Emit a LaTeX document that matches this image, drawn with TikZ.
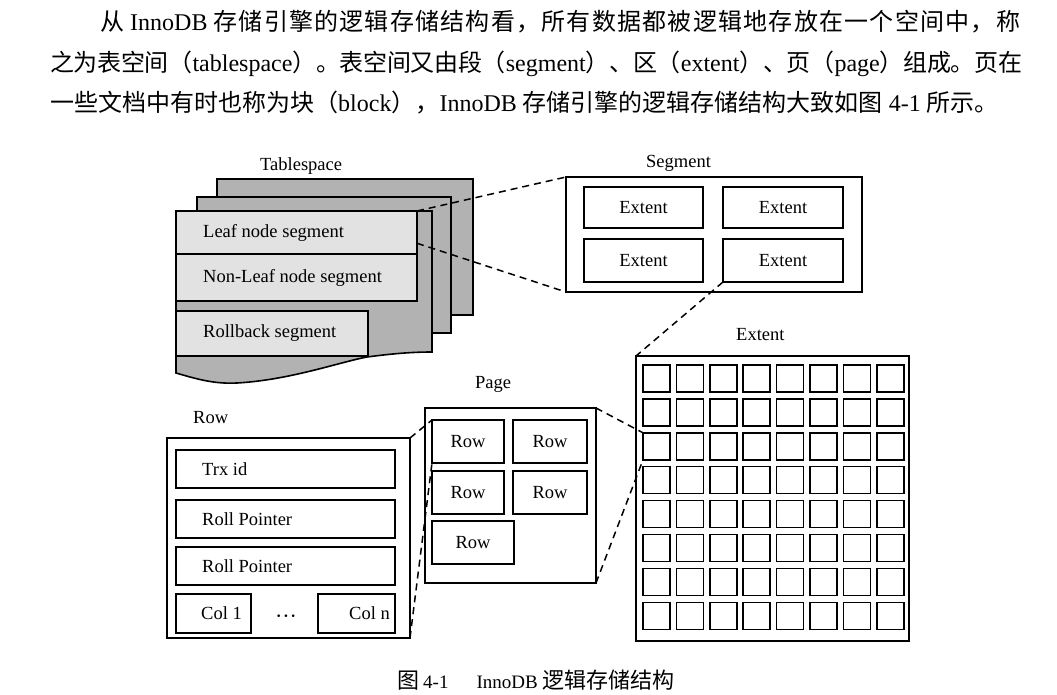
\documentclass[tikz,border=0pt]{standalone}
\usepackage{fontspec}
\setmainfont{Liberation Serif}
\newfontfamily\cjk{Noto Sans CJK SC}
\usetikzlibrary{positioning,calc}
\definecolor{pagegray}{HTML}{B2B2B2}
\definecolor{seggray}{HTML}{E2E2E2}

% stretchable glue between Chinese characters (for justified lines)
\newXeTeXintercharclass\hanzicls
\newcount\hzcode
\hzcode="4E00
\loop\ifnum\hzcode<"A000
  \XeTeXcharclass\hzcode=\hanzicls
  \advance\hzcode by 1
\repeat
\XeTeXcharclass"3001=\hanzicls
\XeTeXcharclass"3002=\hanzicls
\XeTeXcharclass"FF08=\hanzicls
\XeTeXcharclass"FF09=\hanzicls
\XeTeXcharclass"FF0C=\hanzicls
\XeTeXinterchartoks\hanzicls\hanzicls={\hskip0pt plus 1pt minus 0.5pt\relax}
\XeTeXinterchartokenstate=1

\newcommand\diagfont{\fontsize{18.5}{22}\selectfont}
\tikzset{
  frame/.style  ={draw=black,line width=2pt,inner sep=0pt,outer sep=0pt},
  cell/.style   ={draw=black,line width=1.6pt,inner sep=0pt,outer sep=0pt,
                  font=\diagfont},
  segbox/.style ={cell,fill=seggray},
  sheet/.style  ={draw=black,line width=1.6pt,fill=pagegray},
  sq/.style     ={draw=black,line width=1.5pt,inner sep=0pt,outer sep=0pt,
                  minimum size=27pt},
  title/.style  ={font=\diagfont,inner sep=0pt,anchor=base west},
  para/.style   ={font=\fontsize{24}{28}\selectfont,inner sep=0pt,anchor=base west},
  zoomline/.style={draw=black,line width=1.5pt,dash pattern=on 7pt off 5pt}
}

\begin{document}
\begin{tikzpicture}[x=1pt,y=-1pt]
  \useasboundingbox[fill=white] (0,0) rectangle (1057,695);

  % paragraph above the figure
  \node[para] (line1) at (100,31) {\makebox[920pt][s]{{\cjk 从}\hspace{6pt}InnoDB\hspace{6pt}{\cjk 存储引擎的逻辑存储结构看，所有数据都被逻辑地存放在一个空间中，称}}};
  \node[para] (line2) at (50,72) {\makebox[972pt][s]{{\cjk 之为表空间（}tablespace{\cjk ）。表空间又由段（}segment{\cjk ）、区（}extent{\cjk ）、页（}page{\cjk ）组成。页在}}};
  \node[para] (line3) at (50,112) {{\cjk 一些文档中有时也称为块（}block{\cjk ），}InnoDB {\cjk 存储引擎的逻辑存储结构大致如图} 4-1 {\cjk 所示。}};

  % tablespace: stacked pages
  \node[title] (tstitle) at (260,171) {Tablespace};
  \draw[sheet] (217,179) rectangle (473,315);
  \draw[sheet] (197,197) rectangle (451,333);
  \draw[sheet] (176,211) -- (432,211) -- (432,352)
    .. controls (410,352) and (390,354) .. (367,357)
    .. controls (340,362) and (290,380) .. (237,383)
    .. controls (215,384) and (200,380) .. (176,373) -- cycle;
  \node[segbox,minimum width=241pt,minimum height=43pt,anchor=north west,
        label={[anchor=west,xshift=27pt,inner sep=0pt,font=\diagfont]west:Leaf node segment}] (leaf) at (176,211) {};
  \node[segbox,minimum width=241pt,minimum height=47pt,anchor=north west,
        label={[anchor=west,xshift=27pt,inner sep=0pt,font=\diagfont]west:Non-Leaf node segment}] (nonleaf) at (176,254) {};
  \node[segbox,minimum width=192pt,minimum height=45pt,anchor=north west,
        label={[anchor=west,xshift=27pt,inner sep=0pt,font=\diagfont]west:Rollback segment}] (rollback) at (176,311) {};

  % segment
  \node[title] (segtitle) at (646,168) {Segment};
  \node[frame,minimum width=296pt,minimum height=115pt,anchor=north west] (seg) at (566,177) {};
  \node[cell,minimum width=119pt,minimum height=41pt,anchor=north west] (ext1) at (584,187) {Extent};
  \node[cell,minimum width=120pt,minimum height=41pt,right=20pt of ext1] (ext2) {Extent};
  \node[cell,minimum width=119pt,minimum height=43pt,below=11pt of ext1] (ext3) {Extent};
  \node[cell,minimum width=120pt,minimum height=43pt,right=20pt of ext3] (ext4) {Extent};

  % extent: 8 x 8 pages
  \node[title] (exttitle) at (736,340) {Extent};
  \node[frame,line width=2.4pt,minimum width=273pt,minimum height=285pt,anchor=north west] (extent) at (636,356) {};
  \foreach \r in {1,...,8}
    \foreach \c in {1,...,8}
      \node[sq,anchor=north west] (sq-\r-\c) at ({643+(\c-1)*33.4},{365+(\r-1)*33.9}) {};

  % page
  \node[title] (pagetitle) at (475,388) {Page};
  \node[frame,minimum width=171pt,minimum height=175pt,anchor=north west] (page) at (425,408) {};
  \node[cell,minimum width=72pt,minimum height=43pt,anchor=north west] (r1) at (432,420) {Row};
  \node[cell,minimum width=74pt,minimum height=43pt,right=9pt of r1] (r2) {Row};
  \node[cell,minimum width=72pt,minimum height=43pt,below=8pt of r1] (r3) {Row};
  \node[cell,minimum width=74pt,minimum height=43pt,right=9pt of r3] (r4) {Row};
  \node[cell,minimum width=82pt,minimum height=43pt,below=7pt of r3.south west,anchor=north west] (r5) {Row};

  % row
  \node[title] (rowtitle) at (193,423) {Row};
  \node[frame,minimum width=243pt,minimum height=200pt,anchor=north west] (row) at (167,438) {};
  \node[cell,minimum width=219pt,minimum height=38pt,anchor=north west,
        label={[anchor=west,xshift=26pt,inner sep=0pt,font=\diagfont]west:Trx id}] (trx) at (176,450) {};
  \node[cell,minimum width=219pt,minimum height=38pt,below=12pt of trx,
        label={[anchor=west,xshift=26pt,inner sep=0pt,font=\diagfont]west:Roll Pointer}] (roll1) {};
  \node[cell,minimum width=219pt,minimum height=38pt,below=9pt of roll1,
        label={[anchor=west,xshift=26pt,inner sep=0pt,font=\diagfont]west:Roll Pointer}] (roll2) {};
  \node[cell,minimum width=75pt,minimum height=39pt,anchor=north west,
        label={[anchor=east,xshift=-9pt,inner sep=0pt,font=\diagfont]east:Col 1}] (col1) at (176,594) {};
  \node[cell,minimum width=77pt,minimum height=39pt,anchor=north west,
        label={[anchor=east,xshift=-5pt,inner sep=0pt,font=\diagfont]east:Col n}] (coln) at (318,594) {};
  \node[font=\fontsize{22}{24}\selectfont,inner sep=0pt] (dots) at (286,619) {···};

  % dashed zoom lines
  \draw[zoomline] (leaf.north east) -- (seg.north west);
  \draw[zoomline] ($(leaf.south east)!0.25!(leaf.north east)$) -- (seg.south west);
  \draw[zoomline] (ext4.south west) -- (extent.north west);
  \draw[zoomline] (page.north east) -- (sq-3-1.north west);
  \draw[zoomline] (page.south east) -- (sq-3-1.south west);
  \draw[zoomline] (row.north east) -- (r1.north west);
  \draw[zoomline] (row.south east) -- (r1.south west);

  % caption
  \node[font=\fontsize{19}{24}\selectfont,inner sep=0pt,anchor=base west] (caption) at (397,688)
    {{\cjk\fontsize{22}{24}\selectfont 图}\hspace{4pt}4-1\hspace{28pt}InnoDB {\cjk\fontsize{22}{24}\selectfont 逻辑存储结构}};
\end{tikzpicture}
\end{document}
